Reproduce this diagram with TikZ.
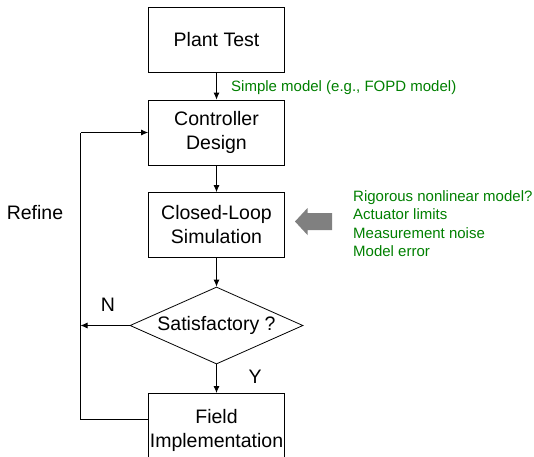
\documentclass[tikz,border=0pt]{standalone}
\usepackage{fontspec}
\setmainfont{Liberation Sans}
\usetikzlibrary{shapes.geometric,arrows.meta}
\definecolor{lblgreen}{RGB}{0,128,0}
\definecolor{fatgray}{RGB}{128,128,128}
\tikzset{
  box/.style={draw, line width=0.8pt, minimum width=136pt, minimum height=65pt, inner sep=0pt, align=center, font=\fontsize{19.5}{24}\selectfont},
  decide/.style={draw, diamond, aspect=2.25, line width=0.8pt, minimum width=173pt, minimum height=77pt, inner sep=0pt, font=\fontsize{19.5}{24}\selectfont},
  flow/.style={line width=0.8pt, -{Latex[length=7pt,width=6pt]}},
  plainline/.style={line width=0.8pt},
  note/.style={text=lblgreen, font=\fontsize{15}{18.5}\selectfont, inner sep=0pt},
  lbl/.style={font=\fontsize{19.5}{24}\selectfont, inner sep=0pt}
}
\begin{document}
\begin{tikzpicture}[x=1pt,y=-1pt]
\clip (0,0) rectangle (534,456);
\fill[white] (0,0) rectangle (534,456);
\node[box] (plant) at (216.5,39.5) {Plant Test};
\node[box] (design) at (216.5,132.5) {Controller\\Design};
\node[box] (sim) at (216.5,225) {Closed-Loop\\Simulation};
\node[decide] (sat) at (216.5,325.5) {Satisfactory ?};
\node[box, minimum height=74pt, anchor=north] (field) at (216.5,393) {Field\\Implementation};
\coordinate (fl) at (80.5,419);
\coordinate (nj) at (80.5,325.5);
\coordinate (dl) at (80.5,132.5);
\draw[flow] (plant) -- (design);
\draw[flow] (design) -- (sim);
\draw[flow] (sim) -- (sat);
\draw[flow] (sat) -- (field);
\draw[flow] (sat.west) -- (nj);
\draw[plainline] (field.west |- fl) -- (fl) -- (dl);
\draw[flow] (dl) -- (design.west);
\node[note, anchor=west] (simple) at (231,88) {Simple model (e.g., FOPD model)};
\node[lbl] (refine) at (35,213) {Refine};
\node[lbl] (nlab) at (108,305) {N};
\node[lbl] (ylab) at (255,377) {Y};
\node[note, anchor=north west, align=left] (issues) at (353,190) {Rigorous nonlinear model?\\Actuator limits\\Measurement noise\\Model error};
\fill[fatgray] (295,221.5) -- (307.5,208) -- (307.5,213) -- (332,213) -- (332,230) -- (307.5,230) -- (307.5,235) -- cycle;
\end{tikzpicture}
\end{document}
